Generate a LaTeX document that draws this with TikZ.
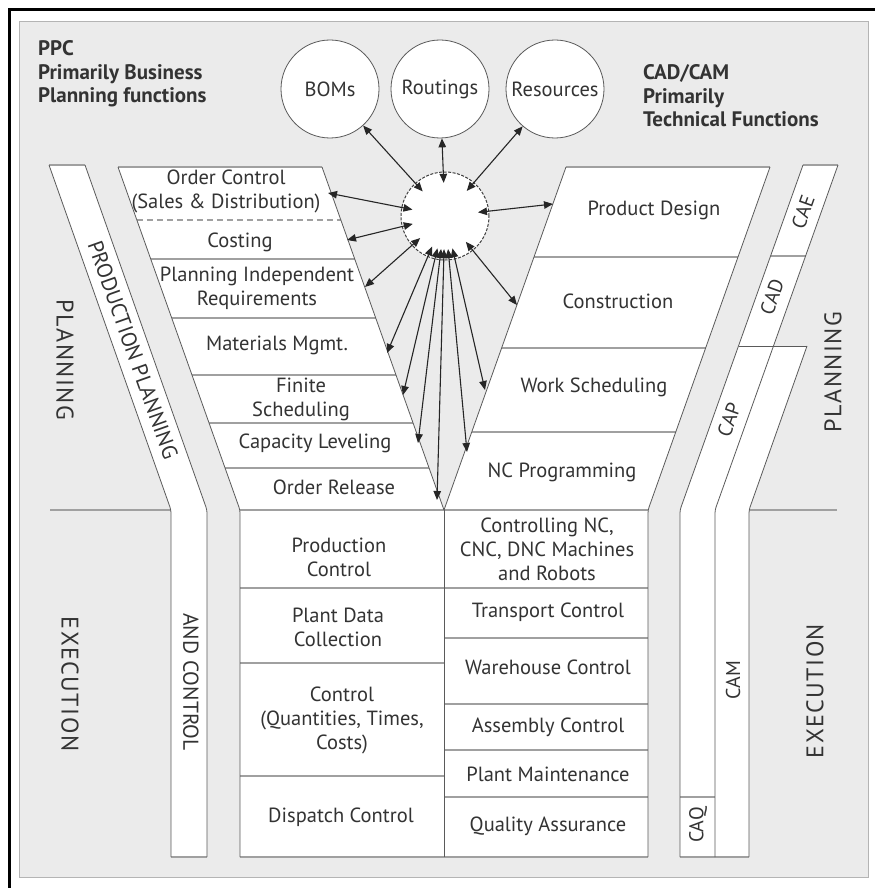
\documentclass[tikz,border=0pt]{standalone}
\usepackage{fontspec}
\setmainfont{PT Sans}
\newfontfamily\spacedfont[LetterSpace=6]{PT Sans}
\usetikzlibrary{arrows.meta,calc}

\definecolor{panel}{HTML}{EBEBEB}
\definecolor{panelrim}{HTML}{B4B4B4}
\definecolor{ink}{HTML}{333333}
\definecolor{edge}{HTML}{5A5A5A}
\definecolor{rule}{HTML}{A0A0A0}

\begin{document}
\begin{tikzpicture}[x=1pt,y=-1pt,
  lbl/.style={text=ink, font=\fontsize{20.5}{24}\selectfont, align=center, inner sep=0pt},
  caxlabel/.style={text=ink, font=\fontsize{20}{24}\selectfont, inner sep=0pt},
  sidelabel/.style={text=ink, font=\spacedfont\fontsize{24}{28}\selectfont, inner sep=0pt},
  striplabel/.style={text=ink, font=\fontsize{21.5}{26}\selectfont, inner sep=0pt},
  titleblock/.style={text=ink, font=\bfseries\fontsize{21}{23.5}\selectfont, align=left, inner sep=0pt, anchor=west},
  outline/.style={draw=edge, line width=0.8pt},
  divider/.style={draw=rule, line width=1.3pt},
  store/.style={circle, draw=edge, fill=white, minimum size=98pt, inner sep=0pt, line width=0.8pt,
    text=ink, font=\fontsize{20.5}{24}\selectfont},
  link/.style={{Triangle[length=9pt,width=7.5pt]}-{Triangle[length=9pt,width=7.5pt]}, line width=1.1pt, black!85},
]
\useasboundingbox (0,0) rectangle (875,888);

% frame and background panel
\draw[line width=3pt] (9.5,888) -- (9.5,9.5) -- (875,9.5);
\draw[fill=panel, draw=panelrim, line width=1pt] (19,22) rectangle (868,877);

% planning / execution separators
\draw[divider] (50,510) -- (171,510);
\draw[divider] (749,510) -- (837,510);

% PPC strip (production planning and control)
\fill[white] (49,165) -- (85,165) -- (207,510) -- (207,857) -- (171,857) -- (171,510) -- cycle;
\draw[divider] (49,165) -- (85,165);
\draw[divider] (171,857) -- (207,857);
\draw[outline, rounded corners=3pt] (49,165) -- (171,510) -- (171,857);
\draw[outline, rounded corners=3pt] (85,165) -- (207,510) -- (207,857);

% CAx strips
\fill[white] (803,165) -- (838,165) -- (773.6,346) -- (807,346) -- (749,510) -- (749,857) -- (680,857) -- (680,510) -- cycle;
\draw[divider] (803,165) -- (838,165);
\draw[divider] (771.3,256) -- (806.3,256);
\draw[divider] (680,797) -- (715,797);
\draw[divider] (680,857) -- (749,857);
\draw[outline] (738.6,346) -- (807,346);
\draw[outline, rounded corners=3pt] (803,165) -- (680,510) -- (680,857);
\draw[outline, rounded corners=3pt] (838,165) -- (715,510) -- (715,857);
\draw[outline, rounded corners=3pt] (807,346) -- (749,510) -- (749,857);

% PPC funnel and execution column
\fill[white] (118,167) -- (322,167) -- (444,510) -- (444,857) -- (240,857) -- (240,510) -- cycle;
% CAD/CAM funnel and execution column
\fill[white] (566,167) -- (770,167) -- (648,510) -- (648,857) -- (444,857) -- (444,510) -- cycle;

% rows of the PPC funnel
\draw[divider] (118,167) -- (322,167);
\draw[rule, line width=1.3pt, dash pattern=on 6pt off 4pt] (136.9,220) -- (340.9,220);
\draw[divider] (150.7,259) -- (354.7,259);
\draw[divider] (171.7,318) -- (375.7,318);
\draw[divider] (192.0,375) -- (396.0,375);
\draw[divider] (209.1,423) -- (413.1,423);
\draw[divider] (225.1,468) -- (429.1,468);
% rows of the CAD/CAM funnel
\draw[divider] (566,167) -- (770,167);
\draw[divider] (534,257) -- (738,257);
\draw[divider] (501.6,348) -- (705.6,348);
\draw[divider] (471.7,432) -- (675.7,432);
% execution rows
\draw[divider] (240,510) -- (648,510);
\draw[divider] (240,588) -- (648,588);
\draw[divider] (240,663) -- (444,663);
\draw[divider] (240,776) -- (444,776);
\draw[divider] (444,638) -- (648,638);
\draw[divider] (444,704) -- (648,704);
\draw[divider] (444,750) -- (648,750);
\draw[divider] (444,797) -- (648,797);
\draw[divider] (240,857) -- (648,857);

% funnel outlines
\draw[outline, rounded corners=3pt] (118,167) -- (240,510) -- (240,857);
\draw[outline] (322,167) -- (444,510);
\draw[outline] (566,167) -- (444,510);
\draw[outline] (444,510) -- (444,857);
\draw[outline, rounded corners=3pt] (770,167) -- (648,510) -- (648,857);

% headings
\node[titleblock] (ppchead) at (38,74) {PPC\\Primarily Business\\Planning functions};
\node[titleblock] (caxhead) at (643,96) {CAD/CAM\\Primarily\\Technical Functions};

% side labels
\node[sidelabel, rotate=-90] (planL) at (65,360) {PLANNING};
\node[sidelabel, rotate=-90] (execL) at (70,684) {EXECUTION};
\node[sidelabel, rotate=90] (planR) at (833,372) {PLANNING};
\node[sidelabel, rotate=90] (execR) at (815,691) {EXECUTION};
\node[striplabel, rotate=-70.4] (ppcA) at (133,350) {PRODUCTION PLANNING};
\node[striplabel, rotate=-90] (ppcB) at (191,682) {AND CONTROL};
\node[caxlabel, rotate=70.4] (cae) at (803,212) {CAE};
\node[caxlabel, rotate=70.4] (cad) at (772,297) {CAD};
\node[caxlabel, rotate=70.4] (cap) at (729,420) {CAP};
\node[caxlabel, rotate=90] (caq) at (698,825) {CAQ};
\node[caxlabel, rotate=90] (cam) at (733,680) {CAM};

% PPC functions
\node[lbl] (oc) at (226,191) {Order Control\\(Sales \& Distribution)};
\node[lbl] (cost) at (240,242) {Costing};
\node[lbl] (pir) at (257,288) {Planning Independent\\Requirements};
\node[lbl] (mat) at (277,345) {Materials Mgmt.};
\node[lbl] (fin) at (301,399) {Finite\\Scheduling};
\node[lbl] (capl) at (315,443) {Capacity Leveling};
\node[lbl] (orel) at (334,487) {Order Release};
% CAD/CAM functions
\node[lbl] (pd) at (654,210) {Product Design};
\node[lbl] (cons) at (618,301) {Construction};
\node[lbl] (ws) at (594,387) {Work Scheduling};
\node[lbl] (ncp) at (562,472) {NC Programming};
% execution functions
\node[lbl] (pc) at (339,557) {Production\\Control};
\node[lbl] (pdc) at (338,627) {Plant Data\\Collection};
\node[lbl] (ctl) at (342,720) {Control\\(Quantities, Times,\\Costs)};
\node[lbl] (dc) at (341,817) {Dispatch Control};
\node[lbl] (cnc) at (547,549) {Controlling NC,\\CNC, DNC Machines\\and Robots};
\node[lbl] (tc) at (548,612) {Transport Control};
\node[lbl] (wc) at (548,667) {Warehouse Control};
\node[lbl] (ac) at (548,727) {Assembly Control};
\node[lbl] (pm) at (548,774) {Plant Maintenance};
\node[lbl] (qa) at (548,826) {Quality Assurance};

% master data stores
\node[store] (bom) at (330,89) {BOMs};
\node[store] (rout) at (440,89) {Routings};
\node[store] (res) at (555,89) {Resources};

% central database
\node[circle, minimum size=88pt, fill=white, draw=black!75, line width=1pt, dash pattern=on 3pt off 1.5pt] (hub) at (445,216) {};
\node[circle, minimum size=66pt, inner sep=0pt] (core) at (445,216) {};

% arrow end points on the funnel edges
\coordinate (tOC) at (328,193);
\coordinate (tCost) at (347,240);
\coordinate (tPIR) at (365,287);
\coordinate (tMat) at (387,353);
\coordinate (tFin) at (403,395);
\coordinate (tCap) at (418,443);
\coordinate (tRel) at (437,500);
\coordinate (tPD) at (553,204);
\coordinate (tCons) at (517,305);
\coordinate (tWS) at (485,390);
\coordinate (tNC) at (467,452);

\draw[link] (core) -- (bom);
\draw[link] (core) -- (rout);
\draw[link] (core) -- (res);
\foreach \t in {tOC,tCost,tPIR,tMat,tFin,tCap,tRel,tPD,tCons,tWS,tNC}
  \draw[link] (core) -- (\t);
\end{tikzpicture}
\end{document}
